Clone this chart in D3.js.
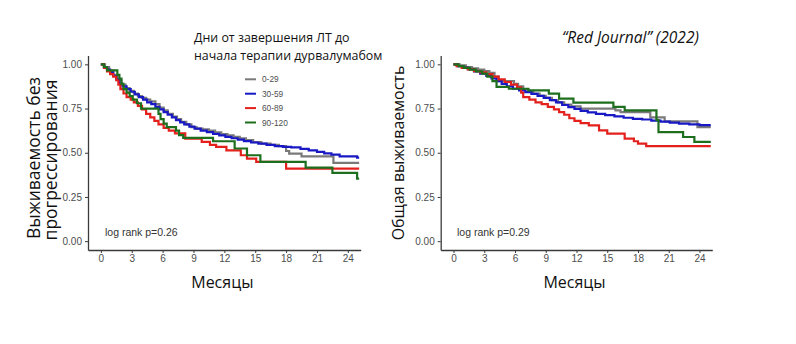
<!DOCTYPE html>
<html>
<head>
<meta charset="utf-8">
<script src="https://cdn.jsdelivr.net/npm/d3@7"></script>
<style>
  body { margin: 0; background: #fff; }
  svg { display: block; }
</style>
</head>
<body>
<div class="chart"></div>
<script>
// groups (days from end of RT to durvalumab start)
const groups = ["0-29", "30-59", "60-89", "90-120"];
const colors = ["#7a7a7a", "#1818c4", "#e3201c", "#1d6e1d"];
const monthTicks = [0, 3, 6, 9, 12, 15, 18, 21, 24];
const survTicks = [0, 0.25, 0.5, 0.75, 1];

// PFS steps [month, survival]
const pfsGray = [[0,1],[0.4,0.985],[0.8,0.965],[1.2,0.94],[1.6,0.91],[2.0,0.885],[2.4,0.865],[2.8,0.85],[3.2,0.835],[3.6,0.82],[4.0,0.81],[4.4,0.8],[4.8,0.79],[5.3,0.775],[5.7,0.755],[6.1,0.74],[6.5,0.72],[7.0,0.705],[7.4,0.69],[7.8,0.675],[8.3,0.66],[8.8,0.645],[9.3,0.637],[9.9,0.632],[10.5,0.625],[11.1,0.615],[11.7,0.605],[12.3,0.598],[12.9,0.59],[13.5,0.582],[14.1,0.572],[14.8,0.56],[15.6,0.552],[16.5,0.545],[17.3,0.537],[18.0,0.51],[18.3,0.495],[19.5,0.48],[22.6,0.443],[25.1,0.443]];
const pfsBlue = [[0,1],[0.3,0.985],[0.6,0.97],[0.9,0.955],[1.2,0.935],[1.5,0.915],[1.8,0.89],[2.1,0.875],[2.5,0.86],[2.9,0.845],[3.3,0.83],[3.7,0.815],[4.1,0.8],[4.5,0.785],[4.9,0.775],[5.3,0.76],[5.7,0.745],[6.1,0.73],[6.5,0.715],[6.9,0.7],[7.3,0.685],[7.7,0.672],[8.1,0.66],[8.6,0.648],[9.1,0.636],[9.7,0.625],[10.3,0.617],[10.9,0.607],[11.5,0.598],[12.1,0.59],[12.7,0.582],[13.3,0.574],[13.9,0.566],[14.6,0.558],[15.3,0.552],[16.1,0.545],[16.9,0.538],[17.7,0.533],[18.5,0.53],[19.4,0.522],[20.2,0.514],[21.0,0.505],[21.7,0.497],[22.4,0.489],[23.2,0.48],[24.9,0.472],[25.1,0.472]];
const pfsRed = [[0,1],[0.3,0.98],[0.6,0.96],[0.9,0.945],[1.2,0.93],[1.5,0.91],[1.7,0.885],[1.9,0.86],[2.2,0.835],[2.5,0.815],[2.9,0.8],[3.2,0.785],[3.6,0.765],[4.0,0.745],[4.4,0.72],[4.8,0.7],[5.2,0.68],[5.6,0.66],[6.1,0.64],[6.6,0.625],[7.2,0.61],[8.2,0.58],[9.8,0.561],[10.6,0.545],[11.2,0.533],[12.2,0.514],[13.6,0.486],[14.2,0.467],[15.1,0.448],[18.0,0.41],[25.1,0.41]];
const pfsGreen = [[0,1],[0.3,0.985],[0.6,0.966],[1.6,0.94],[1.8,0.92],[2.0,0.89],[2.2,0.86],[2.5,0.84],[2.8,0.82],[3.1,0.8],[3.5,0.78],[3.9,0.75],[5.6,0.72],[5.8,0.69],[6.1,0.665],[6.4,0.645],[7.3,0.625],[7.6,0.6],[8.0,0.584],[10.9,0.565],[13.0,0.524],[14.2,0.486],[15.5,0.448],[19.9,0.416],[22.5,0.386],[24.9,0.354],[25.1,0.354]];

// OS steps [month, survival]
const osGray = [[0,1],[0.6,0.995],[1.2,0.985],[1.8,0.977],[2.4,0.97],[3.0,0.962],[3.5,0.952],[4.0,0.93],[4.4,0.905],[5.9,0.89],[6.3,0.875],[6.8,0.858],[7.3,0.845],[7.8,0.835],[8.4,0.822],[9.0,0.81],[9.6,0.797],[10.2,0.785],[10.8,0.772],[11.5,0.762],[12.4,0.75],[15.8,0.74],[16.3,0.73],[19.2,0.7],[20.6,0.677],[23.8,0.645],[25.1,0.645]];
const osBlue = [[0,1],[0.4,0.99],[0.9,0.982],[1.4,0.973],[2.0,0.96],[2.6,0.948],[3.2,0.935],[3.7,0.92],[4.2,0.905],[4.7,0.89],[5.2,0.875],[5.8,0.862],[6.4,0.852],[7.0,0.843],[7.6,0.833],[8.2,0.822],[8.8,0.81],[9.4,0.798],[10.0,0.785],[10.6,0.77],[11.2,0.758],[11.8,0.748],[12.4,0.737],[13.1,0.728],[13.9,0.72],[14.8,0.713],[15.7,0.706],[16.6,0.698],[17.5,0.692],[18.4,0.688],[19.3,0.682],[20.2,0.676],[21.1,0.67],[22.0,0.665],[23.0,0.66],[24.0,0.656],[25.1,0.656]];
const osRed = [[0,1],[0.3,0.99],[0.8,0.98],[1.4,0.972],[2.0,0.962],[2.6,0.955],[3.2,0.945],[3.8,0.93],[4.4,0.915],[5.0,0.9],[5.6,0.885],[6.2,0.87],[6.6,0.84],[6.8,0.815],[7.4,0.8],[8.0,0.785],[8.6,0.775],[9.2,0.76],[9.8,0.745],[10.3,0.73],[10.8,0.715],[11.3,0.695],[11.8,0.68],[12.4,0.667],[13.2,0.655],[14.2,0.627],[15.0,0.608],[16.7,0.58],[17.6,0.565],[18.0,0.552],[18.8,0.538],[25.1,0.538]];
const osGreen = [[0,1],[0.5,0.99],[1.0,0.98],[1.6,0.97],[2.2,0.96],[2.8,0.947],[3.3,0.93],[3.8,0.905],[4.2,0.872],[5.4,0.862],[7.3,0.853],[9.3,0.834],[10.3,0.806],[11.7,0.784],[15.6,0.759],[16.7,0.74],[19.8,0.684],[20.0,0.617],[22.4,0.589],[23.5,0.561],[25.1,0.561]];

const w = 796, h = 344;
const svg = d3.select(".chart").append("svg")
  .attr("width", w)
  .attr("height", h)
  .style("font-family", "'Liberation Sans', Arial, sans-serif");

const yScale = d3.scaleLinear().domain([-0.05, 1.05]).range([250, 55.5]);

function panel(left, right, series, pText, pX) {
  const xScale = d3.scaleLinear().domain([-1.25, 25.25]).range([left, right]);
  const line = d3.line()
    .x(d => xScale(d[0]))
    .y(d => yScale(d[1]))
    .curve(d3.curveStepAfter);

  svg.append("g")
    .selectAll("path")
    .data(series)
    .enter()
    .append("path")
    .attr("d", d => line(d))
    .attr("fill", "none")
    .attr("stroke", (d, i) => colors[i])
    .attr("stroke-width", 2.2);

  const xAxis = d3.axisBottom(xScale)
    .tickValues(monthTicks)
    .tickSize(3)
    .tickSizeOuter(0)
    .tickPadding(2);
  const yAxis = d3.axisLeft(yScale)
    .tickValues(survTicks)
    .tickFormat(d3.format(".2f"))
    .tickSize(3)
    .tickSizeOuter(0)
    .tickPadding(3);

  const gx = svg.append("g")
    .attr("transform", "translate(0,250)")
    .call(xAxis);
  const gy = svg.append("g")
    .attr("transform", "translate(" + left + ",0)")
    .call(yAxis);
  [gx, gy].forEach(g => {
    g.select(".domain").attr("stroke", "#3a3a3a").attr("stroke-width", 1.3);
    g.selectAll(".tick line").attr("stroke", "#3a3a3a");
    g.selectAll(".tick text")
      .attr("fill", "#4d4d4d")
      .style("font-family", "'Liberation Sans', Arial, sans-serif")
      .style("font-size", "10px");
  });

  svg.append("text")
    .attr("x", pX)
    .attr("y", 235.5)
    .attr("fill", "#333")
    .style("font-size", "10.5px")
    .text(pText);

  svg.append("text")
    .attr("x", (xScale(0) + xScale(24)) / 2 - 2)
    .attr("y", 288)
    .attr("text-anchor", "middle")
    .style("font-family", "'Open Sans', sans-serif")
    .style("font-size", "16px")
    .attr("fill", "#111")
    .text("Месяцы");
}

panel(88, 360.7, [pfsGray, pfsBlue, pfsRed, pfsGreen], "log rank p=0.26", 105);
panel(440.7, 712.3, [osGray, osBlue, osRed, osGreen], "log rank p=0.29", 457);

// y axis titles
const ytitle = (x, y, txt, size) => svg.append("text")
  .attr("transform", "translate(" + x + "," + y + ") rotate(-90)")
  .attr("text-anchor", "middle")
  .style("font-family", "'Open Sans', sans-serif")
  .style("font-size", size + "px")
  .attr("fill", "#111")
  .text(txt);
ytitle(40, 158, "Выживаемость без", 17.5);
ytitle(57, 160, "прогрессирования", 17.5);
ytitle(404, 153, "Общая выживаемость", 16);

// legend
const legend = svg.append("g");
groups.forEach((g, i) => {
  const y = 79.3 + i * 14.4;
  legend.append("line")
    .attr("x1", 245).attr("x2", 256)
    .attr("y1", y).attr("y2", y)
    .attr("stroke", colors[i])
    .attr("stroke-width", 2);
  legend.append("text")
    .attr("x", 262).attr("y", y + 3)
    .attr("fill", "#4d4d4d")
    .style("font-size", "8.3px")
    .text(g);
});

// headings
svg.append("text")
  .attr("x", 194).attr("y", 42)
  .style("font-family", "'Open Sans', sans-serif")
  .style("font-size", "12.4px")
  .attr("fill", "#111")
  .text("Дни от завершения ЛТ до");
svg.append("text")
  .attr("x", 194).attr("y", 59.5)
  .style("font-family", "'Open Sans', sans-serif")
  .style("font-size", "12.4px")
  .attr("fill", "#111")
  .text("начала терапии дурвалумабом");
svg.append("text")
  .attr("x", 562).attr("y", 43)
  .style("font-family", "'Open Sans', sans-serif")
  .style("font-style", "italic")
  .style("font-size", "15.5px")
  .attr("fill", "#111")
  .text("“Red Journal” (2022)");
</script>
</body>
</html>
